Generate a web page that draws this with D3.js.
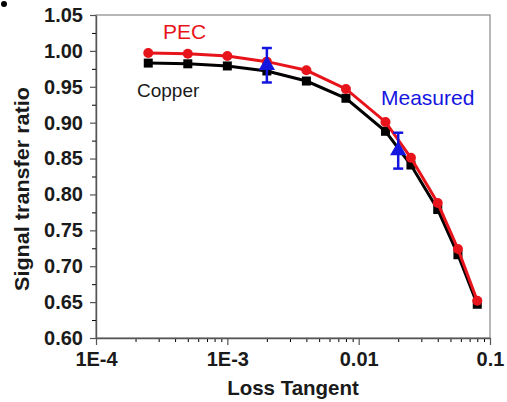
<!DOCTYPE html>
<html>
<head>
<meta charset="utf-8">
<script src="https://cdn.jsdelivr.net/npm/d3@7"></script>
<style>
  body { margin: 0; background: #fff; }
  svg { display: block; font-family: Arial, "Liberation Sans", sans-serif; }
</style>
</head>
<body>
<script>
// data
const lossTangent = [2.5e-4, 5e-4, 1e-3, 2e-3, 4e-3, 8e-3, 0.016, 0.025, 0.04, 0.057, 0.08];
const pecValues = [0.997, 0.996, 0.993, 0.985, 0.973, 0.947, 0.901, 0.851, 0.788, 0.724, 0.652];
const copperValues = [0.983, 0.982, 0.979, 0.972, 0.958, 0.934, 0.888, 0.841, 0.779, 0.716, 0.647];
const measuredX = [2e-3, 0.02];
const measuredY = [0.980, 0.861];
const measuredErr = [0.024, 0.025];
const xTicks = [1e-4, 1e-3, 1e-2, 1e-1];
const xTickLabels = ["1E-4", "1E-3", "0.01", "0.1"];
const yTicks = [0.60, 0.65, 0.70, 0.75, 0.80, 0.85, 0.90, 0.95, 1.00, 1.05];

const width = 507,
    height = 402;
const plotLeft = 96, plotRight = 490, plotTop = 15, plotBottom = 338;

const svg = d3.select('body').append('svg')
    .attr('width', width)
    .attr('height', height);

const x = d3.scaleLog().domain([1e-4, 0.1]).range([plotLeft, plotRight]);
const y = d3.scaleLinear().domain([0.6, 1.05]).range([plotBottom, plotTop]);

//frame (top and right)
svg.append('rect')
    .attr('x', plotLeft).attr('y', plotTop)
    .attr('width', plotRight - plotLeft).attr('height', plotBottom - plotTop)
    .attr('fill', 'none').attr('stroke', '#888').attr('stroke-width', 1.2);

//minor ticks
const minorX = [];
for (let e = -4; e < -1; e++) {
    for (let m = 2; m < 10; m++) minorX.push(m * Math.pow(10, e));
}
svg.append('g')
    .attr('transform', `translate(0,${plotBottom})`)
    .call(d3.axisBottom(x).tickValues(minorX).tickSize(4).tickFormat(''))
    .call(g => g.select('.domain').remove());

const minorY = yTicks.slice(0, -1).map(v => v + 0.025);
svg.append('g')
    .attr('transform', `translate(${plotLeft},0)`)
    .call(d3.axisLeft(y).tickValues(minorY).tickSize(4).tickFormat(''))
    .call(g => g.select('.domain').remove());

//major axes
const xAxis = svg.append('g')
    .attr('transform', `translate(0,${plotBottom})`)
    .call(d3.axisBottom(x).tickValues(xTicks).tickSize(7).tickSizeOuter(0).tickPadding(7)
        .tickFormat((d, i) => xTickLabels[i]));

const yAxis = svg.append('g')
    .attr('transform', `translate(${plotLeft},0)`)
    .call(d3.axisLeft(y).tickValues(yTicks).tickSize(6).tickSizeOuter(0).tickPadding(7)
        .tickFormat(d3.format('.2f')));

[xAxis, yAxis].forEach(g => {
    g.selectAll('line').attr('stroke', '#555').attr('stroke-width', 1.2);
    g.select('.domain').attr('stroke', '#555').attr('stroke-width', 1.4);
    g.selectAll('text')
        .attr('fill', '#1a1a1a')
        .style('font-size', '20px')
        .style('font-weight', 'bold');
});

//axis titles
svg.append('text')
    .attr('x', (plotLeft + plotRight) / 2)
    .attr('y', 395)
    .attr('text-anchor', 'middle')
    .style('font-size', '20.5px')
    .style('font-weight', 'bold')
    .attr('fill', '#1a1a1a')
    .text('Loss Tangent');

svg.append('text')
    .attr('transform', `translate(29,189) rotate(-90)`)
    .attr('text-anchor', 'middle')
    .attr('textLength', 204)
    .attr('lengthAdjust', 'spacingAndGlyphs')
    .style('font-size', '20px')
    .style('font-weight', 'bold')
    .attr('fill', '#1a1a1a')
    .text('Signal transfer ratio');

//lines
const line = d3.line()
    .x(d => x(d[0]))
    .y(d => y(d[1]));

const copper = lossTangent.map((t, i) => [t, copperValues[i]]);
const pec = lossTangent.map((t, i) => [t, pecValues[i]]);

svg.append('path')
    .datum(copper)
    .attr('d', line)
    .attr('fill', 'none')
    .attr('stroke', '#000')
    .attr('stroke-width', 3);

svg.selectAll('.sq')
    .data(copper)
    .enter()
    .append('rect')
    .attr('class', 'sq')
    .attr('x', d => x(d[0]) - 4.5)
    .attr('y', d => y(d[1]) - 4.5)
    .attr('width', 9)
    .attr('height', 9)
    .attr('fill', '#000');

svg.append('path')
    .datum(pec)
    .attr('d', line)
    .attr('fill', 'none')
    .attr('stroke', '#e8141c')
    .attr('stroke-width', 3);

svg.selectAll('.dot')
    .data(pec)
    .enter()
    .append('circle')
    .attr('class', 'dot')
    .attr('cx', d => x(d[0]))
    .attr('cy', d => y(d[1]))
    .attr('r', 5)
    .attr('fill', '#e8141c');

//measured points with error bars
const measured = measuredX.map((t, i) => ({ t: t, v: measuredY[i], e: measuredErr[i] }));
const blue = '#1515e0';

const mg = svg.selectAll('.meas')
    .data(measured)
    .enter()
    .append('g')
    .attr('class', 'meas');

mg.append('line')
    .attr('x1', d => x(d.t)).attr('x2', d => x(d.t))
    .attr('y1', d => y(d.v + d.e)).attr('y2', d => y(d.v - d.e))
    .attr('stroke', blue).attr('stroke-width', 2.5);

[1, -1].forEach(s => {
    mg.append('line')
        .attr('x1', d => x(d.t) - 5).attr('x2', d => x(d.t) + 5)
        .attr('y1', d => y(d.v + s * d.e)).attr('y2', d => y(d.v + s * d.e))
        .attr('stroke', blue).attr('stroke-width', 2.5);
});

mg.append('path')
    .attr('d', d3.symbol().type(d3.symbolTriangle).size(115))
    .attr('transform', d => `translate(${x(d.t)},${y(d.v)})`)
    .attr('fill', blue);

//labels
svg.append('text')
    .attr('x', 163).attr('y', 39)
    .style('font-size', '21px')
    .attr('fill', '#e8141c')
    .text('PEC');

svg.append('text')
    .attr('x', 137).attr('y', 97)
    .style('font-size', '19px')
    .attr('fill', '#1a1a1a')
    .text('Copper');

svg.append('text')
    .attr('x', 381).attr('y', 105)
    .style('font-size', '21px')
    .attr('fill', blue)
    .text('Measured');

//stray bullet at top-left of the figure
svg.append('circle')
    .attr('cx', 4).attr('cy', 4).attr('r', 3)
    .attr('fill', '#000');
</script>
</body>
</html>
